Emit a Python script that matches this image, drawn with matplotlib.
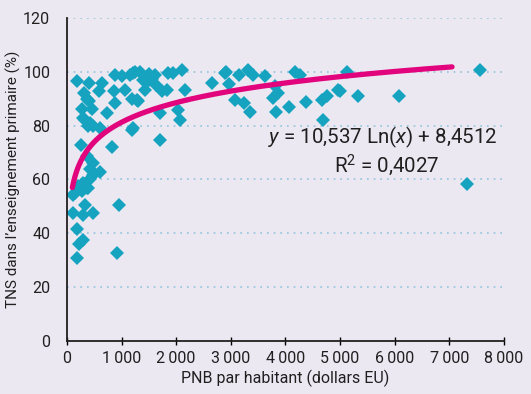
import numpy as np
import matplotlib
matplotlib.use('Agg')
import matplotlib.pyplot as plt

# GNP per capita (US dollars) vs primary net enrolment rate (%)
pnb = [190, 410, 635, 590, 880, 1000, 1150, 1245, 860, 1060, 310, 360, 410, 465, 270,
       300, 330, 380, 420, 480, 600, 730, 880, 1185, 1300, 1200, 250, 820, 360, 420,
       480, 600, 480, 420, 360, 300, 390, 210, 145, 115, 270, 330, 115, 300, 470, 960,
       190, 300, 225, 190, 910,
       1340, 1215, 1610, 1490, 1430, 1640, 1735, 1825, 1855, 1947, 2100, 2160, 1275,
       1700, 2040, 2070, 1215, 1700, 1500, 1560, 1390, 2650, 2895,
       2910, 2970, 3155, 3320, 3410, 3625, 3075, 3240, 3350, 3810, 3780, 3870, 3830,
       4070, 4175, 4270, 4380, 4665, 4770, 4680, 4970, 5135, 5000, 5335, 6080,
       7560, 7330]
tns = [96.7, 96.0, 95.8, 92.8, 98.9, 98.3, 98.9, 100.0, 93.0, 93.3, 92.0, 90.0, 89.0, 86.0, 86.0,
       82.7, 82.0, 80.0, 81.0, 79.7, 79.0, 84.6, 88.3, 90.0, 89.0, 78.4, 72.9, 72.0, 68.6, 64.0,
       66.0, 62.6, 61.7, 60.0, 57.0, 58.6, 56.8, 57.4, 55.0, 54.3, 55.6, 50.6, 47.5, 46.8, 47.7, 50.6,
       41.5, 37.5, 35.9, 30.7, 32.8,
       100.0, 99.5, 98.9, 96.4, 93.3, 95.0, 92.8, 93.3, 99.5, 99.5, 100.7, 93.3, 89.6,
       84.6, 85.9, 82.2, 79.0, 74.7, 99.0, 97.5, 97.0, 95.8, 99.5,
       99.8, 95.5, 98.9, 100.5, 98.9, 98.3, 89.6, 88.3, 85.0, 94.6, 90.2, 92.0, 85.0,
       87.1, 100.0, 98.9, 88.6, 89.6, 91.0, 82.2, 93.3, 100.0, 92.9, 91.0, 91.0,
       100.5, 58.4]

# logarithmic trend from the chart
coef_a = 10.537
coef_b = 8.4512
trend_x = np.linspace(100, 7050, 300)

xticks = [0, 1000, 2000, 3000, 4000, 5000, 6000, 7000, 8000]
xtick_labels = ['0', '1\u2009000', '2\u2009000', '3\u2009000', '4\u2009000',
                '5\u2009000', '6\u2009000', '7\u2009000', '8\u2009000']
yticks = [0, 20, 40, 60, 80, 100, 120]

bg = '#ebe8f2'
plt.rcParams['font.family'] = ['Roboto', 'DejaVu Sans']
plt.rcParams['mathtext.fontset'] = 'custom'
plt.rcParams['mathtext.rm'] = 'Roboto'
plt.rcParams['mathtext.it'] = 'Roboto:italic'

fig = plt.figure(figsize=(5.31, 3.94), dpi=100, facecolor=bg)
ax = fig.add_axes([0.126, 0.1345, 0.823, 0.82], facecolor=bg)

for y in yticks[1:]:
    ax.plot([0, 8000], [y, y], linestyle=(0, (1, 3)), color='#8fc3dc', linewidth=1.2, zorder=1)

ax.plot(pnb, tns, linestyle='none', marker='D', markersize=6.8, color='#16a3bf',
        markeredgewidth=0, zorder=2)
ax.plot(trend_x, coef_a * np.log(trend_x) + coef_b, color='#e2047c', linewidth=3.8,
        solid_capstyle='round', zorder=3)

ax.set_xlim(0, 8000)
ax.set_ylim(0, 120)
ax.set_xticks(xticks)
ax.set_xticklabels(xtick_labels, fontsize=11.5, color='#231f20')
ax.set_yticks(yticks)
ax.set_yticklabels([str(v) for v in yticks], fontsize=11.5, color='#231f20')
ax.tick_params(axis='x', direction='inout', length=6, width=1, pad=4)
ax.tick_params(axis='y', length=0, pad=12)
for s in ['top', 'right']:
    ax.spines[s].set_visible(False)
for s in ['left', 'bottom']:
    ax.spines[s].set_linewidth(1.3)
    ax.spines[s].set_color('#231f20')
ax.set_xlabel('PNB par habitant (dollars EU)', fontsize=11.5, color='#231f20', labelpad=3)
ax.set_ylabel('TNS dans l\u2019enseignement primaire (%)', fontsize=11, color='#231f20')
ax.yaxis.set_label_coords(-0.104, 0.5)

ax.text(7880, 75.8, r'$\mathit{y}$ = 10,537 Ln$\mathit{(x)}$ + 8,4512', ha='right', va='center',
        fontsize=14.8, color='#231f20')
ax.text(6830, 65.4, r'R$^{2}$ = 0,4027', ha='right', va='center', fontsize=14.8, color='#231f20')

fig.savefig('out.png', dpi=100, facecolor=bg)
